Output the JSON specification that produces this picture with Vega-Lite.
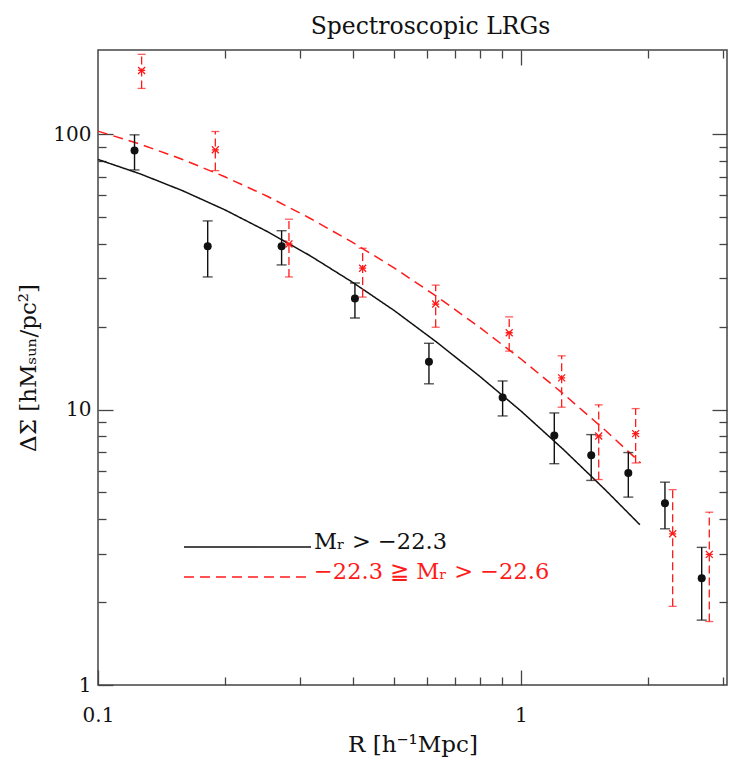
{
  "$schema": "https://vega.github.io/schema/vega-lite/v6.json",
  "width": 629,
  "height": 635,
  "autosize": {"type": "none"},
  "padding": {"left": 98, "top": 50, "right": 2, "bottom": 75},
  "background": "white",
  "title": {"text": "Spectroscopic LRGs", "font": "DejaVu Serif", "fontSize": 23.5, "fontWeight": "normal", "color": "#111", "anchor": "middle", "dx": 18, "offset": 11},
  "config": {"view": {"stroke": "#444", "strokeWidth": 1.5}},
  "datasets": {
    "pts": [
      {"group": "Mᵣ > −22.3", "R": 0.122, "DS": 87.2, "lo": 74.1, "hi": 99.4},
      {"group": "Mᵣ > −22.3", "R": 0.1817, "DS": 39.2, "lo": 30.3, "hi": 48.4},
      {"group": "Mᵣ > −22.3", "R": 0.2717, "DS": 39.2, "lo": 33.5, "hi": 44.6},
      {"group": "Mᵣ > −22.3", "R": 0.405, "DS": 25.3, "lo": 21.5, "hi": 28.8},
      {"group": "Mᵣ > −22.3", "R": 0.606, "DS": 14.9, "lo": 12.4, "hi": 17.4},
      {"group": "Mᵣ > −22.3", "R": 0.905, "DS": 11.06, "lo": 9.48, "hi": 12.7},
      {"group": "Mᵣ > −22.3", "R": 1.199, "DS": 8.05, "lo": 6.36, "hi": 9.72},
      {"group": "Mᵣ > −22.3", "R": 1.466, "DS": 6.82, "lo": 5.53, "hi": 8.11},
      {"group": "Mᵣ > −22.3", "R": 1.794, "DS": 5.88, "lo": 4.81, "hi": 6.98},
      {"group": "Mᵣ > −22.3", "R": 2.19, "DS": 4.57, "lo": 3.69, "hi": 5.45},
      {"group": "Mᵣ > −22.3", "R": 2.675, "DS": 2.44, "lo": 1.72, "hi": 3.16},
      {"group": "−22.3 ≧ Mᵣ > −22.6", "R": 0.1268, "DS": 170.3, "lo": 146.5, "hi": 194.8},
      {"group": "−22.3 ≧ Mᵣ > −22.6", "R": 0.1894, "DS": 87.7, "lo": 73.7, "hi": 102.2},
      {"group": "−22.3 ≧ Mᵣ > −22.6", "R": 0.2828, "DS": 39.9, "lo": 30.3, "hi": 49.1},
      {"group": "−22.3 ≧ Mᵣ > −22.6", "R": 0.4224, "DS": 32.6, "lo": 25.6, "hi": 38.5},
      {"group": "−22.3 ≧ Mᵣ > −22.6", "R": 0.6286, "DS": 24.15, "lo": 19.9, "hi": 28.3},
      {"group": "−22.3 ≧ Mᵣ > −22.6", "R": 0.938, "DS": 19.0, "lo": 16.3, "hi": 21.7},
      {"group": "−22.3 ≧ Mᵣ > −22.6", "R": 1.248, "DS": 13.03, "lo": 10.2, "hi": 15.67},
      {"group": "−22.3 ≧ Mᵣ > −22.6", "R": 1.527, "DS": 8.02, "lo": 5.57, "hi": 10.4},
      {"group": "−22.3 ≧ Mᵣ > −22.6", "R": 1.867, "DS": 8.18, "lo": 6.4, "hi": 10.08},
      {"group": "−22.3 ≧ Mᵣ > −22.6", "R": 2.284, "DS": 3.54, "lo": 1.93, "hi": 5.12},
      {"group": "−22.3 ≧ Mᵣ > −22.6", "R": 2.788, "DS": 2.98, "lo": 1.7, "hi": 4.24}
    ],
    "curves": [
      {"group": "Mᵣ > −22.3", "R": 0.1, "DS": 80.9},
      {"group": "Mᵣ > −22.3", "R": 0.1259, "DS": 71.7},
      {"group": "Mᵣ > −22.3", "R": 0.1585, "DS": 62.3},
      {"group": "Mᵣ > −22.3", "R": 0.1995, "DS": 53.1},
      {"group": "Mᵣ > −22.3", "R": 0.2512, "DS": 44.3},
      {"group": "Mᵣ > −22.3", "R": 0.3162, "DS": 36.3},
      {"group": "Mᵣ > −22.3", "R": 0.3981, "DS": 29.1},
      {"group": "Mᵣ > −22.3", "R": 0.5012, "DS": 22.9},
      {"group": "Mᵣ > −22.3", "R": 0.631, "DS": 17.6},
      {"group": "Mᵣ > −22.3", "R": 0.7943, "DS": 13.3},
      {"group": "Mᵣ > −22.3", "R": 1.0, "DS": 9.88},
      {"group": "Mᵣ > −22.3", "R": 1.2589, "DS": 7.17},
      {"group": "Mᵣ > −22.3", "R": 1.5849, "DS": 5.1},
      {"group": "Mᵣ > −22.3", "R": 1.91, "DS": 3.82},
      {"group": "−22.3 ≧ Mᵣ > −22.6", "R": 0.1, "DS": 102.5},
      {"group": "−22.3 ≧ Mᵣ > −22.6", "R": 0.1259, "DS": 91.9},
      {"group": "−22.3 ≧ Mᵣ > −22.6", "R": 0.1585, "DS": 80.9},
      {"group": "−22.3 ≧ Mᵣ > −22.6", "R": 0.1995, "DS": 70.0},
      {"group": "−22.3 ≧ Mᵣ > −22.6", "R": 0.2512, "DS": 59.5},
      {"group": "−22.3 ≧ Mᵣ > −22.6", "R": 0.3162, "DS": 49.6},
      {"group": "−22.3 ≧ Mᵣ > −22.6", "R": 0.3981, "DS": 40.6},
      {"group": "−22.3 ≧ Mᵣ > −22.6", "R": 0.5012, "DS": 32.7},
      {"group": "−22.3 ≧ Mᵣ > −22.6", "R": 0.631, "DS": 25.8},
      {"group": "−22.3 ≧ Mᵣ > −22.6", "R": 0.7943, "DS": 20.0},
      {"group": "−22.3 ≧ Mᵣ > −22.6", "R": 1.0, "DS": 15.26},
      {"group": "−22.3 ≧ Mᵣ > −22.6", "R": 1.2589, "DS": 11.41},
      {"group": "−22.3 ≧ Mᵣ > −22.6", "R": 1.5849, "DS": 8.39},
      {"group": "−22.3 ≧ Mᵣ > −22.6", "R": 1.919, "DS": 6.4}
    ]
  },
  "layer": [
    {
      "data": {"name": "curves"},
      "mark": {"type": "line", "strokeWidth": 1.5},
      "encoding": {
        "x": {"field": "R", "type": "quantitative",
          "scale": {"type": "log", "domain": [0.1, 3.07], "nice": false},
          "axis": {"orient": "bottom", "values": [0.1, 0.2, 0.3, 0.4, 0.5, 0.6, 0.7, 0.8, 0.9, 1, 2, 3],
            "labelExpr": "datum.value == 0.1 ? '0.1' : (datum.value == 1 ? '1' : '')",
            "tickSize": {"condition": {"test": "datum.value == 0.1 || datum.value == 1", "value": -15}, "value": -8},
            "tickColor": "#444", "tickWidth": 1.3, "domain": false, "grid": false,
            "labelFont": "DejaVu Serif", "labelFontSize": 20, "labelColor": "#111", "labelPadding": 35,
            "labelFlush": false, "labelOverlap": false,
            "title": "R [h⁻¹Mpc]", "titleFont": "DejaVu Serif", "titleFontSize": 23, "titleFontWeight": "normal", "titleColor": "#111", "titlePadding": 1}},
        "y": {"field": "DS", "type": "quantitative",
          "scale": {"type": "log", "domain": [1, 202], "nice": false},
          "axis": {"orient": "left", "values": [1, 2, 3, 4, 5, 6, 7, 8, 9, 10, 20, 30, 40, 50, 60, 70, 80, 90, 100],
            "labelExpr": "datum.value == 1 ? '1' : (datum.value == 10 ? '10' : (datum.value == 100 ? '100' : ''))",
            "tickSize": {"condition": {"test": "datum.value == 1 || datum.value == 10 || datum.value == 100", "value": -15}, "value": -8},
            "tickColor": "#444", "tickWidth": 1.3, "domain": false, "grid": false,
            "labelFont": "DejaVu Serif", "labelFontSize": 20, "labelColor": "#111", "labelPadding": 22,
            "labelFlush": false, "labelOverlap": false,
            "title": "ΔΣ [hMₛᵤₙ/pc²]", "titleFont": "DejaVu Serif", "titleFontSize": 23, "titleFontWeight": "normal", "titleColor": "#111", "titlePadding": 12}},
        "color": {"field": "group", "type": "nominal",
          "scale": {"domain": ["Mᵣ > −22.3", "−22.3 ≧ Mᵣ > −22.6"], "range": ["#111111", "#ff1a1a"]},
          "legend": {"orient": "none", "legendX": 85, "legendY": 483, "title": null, "padding": 0,
            "symbolType": "stroke", "symbolSize": 16129, "symbolStrokeWidth": 1.5, "symbolOffset": 0,
            "clipHeight": 28, "rowPadding": 0, "labelOffset": 2,
            "labelFont": "DejaVu Serif", "labelFontSize": 22.5, "labelBaseline": "middle", "labelLimit": 400,
            "encode": {"labels": {"update": {"fill": {"signal": "datum.index === 0 ? '#111111' : '#ff1a1a'"}, "dy": {"value": -5}}}}}},
        "strokeDash": {"field": "group", "type": "nominal",
          "scale": {"domain": ["Mᵣ > −22.3", "−22.3 ≧ Mᵣ > −22.6"], "range": [[1, 0], [10, 6]]},
          "legend": {"orient": "none", "legendX": 85, "legendY": 483, "title": null, "padding": 0,
            "symbolType": "stroke", "symbolSize": 16129, "symbolStrokeWidth": 1.5, "symbolOffset": 0,
            "clipHeight": 28, "rowPadding": 0, "labelOffset": 2,
            "labelFont": "DejaVu Serif", "labelFontSize": 22.5, "labelBaseline": "middle", "labelLimit": 400,
            "encode": {"labels": {"update": {"fill": {"signal": "datum.index === 0 ? '#111111' : '#ff1a1a'"}, "dy": {"value": -5}}}}}}
      }
    },
    {
      "data": {"name": "pts"},
      "transform": [{"filter": "datum.group == 'Mᵣ > −22.3'"}],
      "mark": {"type": "rule", "strokeWidth": 1.4},
      "encoding": {
        "x": {"field": "R", "type": "quantitative", "axis": null},
        "y": {"field": "lo", "type": "quantitative", "axis": null},
        "y2": {"field": "hi"},
        "color": {"field": "group", "type": "nominal", "legend": null}
      }
    },
    {
      "data": {"name": "pts"},
      "transform": [{"filter": "datum.group != 'Mᵣ > −22.3'"}],
      "mark": {"type": "rule", "strokeWidth": 1.3, "strokeDash": [8, 4]},
      "encoding": {
        "x": {"field": "R", "type": "quantitative", "axis": null},
        "y": {"field": "lo", "type": "quantitative", "axis": null},
        "y2": {"field": "hi"},
        "color": {"field": "group", "type": "nominal", "legend": null}
      }
    },
    {
      "data": {"name": "pts"},
      "transform": [{"filter": "datum.group == 'Mᵣ > −22.3'"}, {"fold": ["lo", "hi"], "as": ["end", "val"]}],
      "mark": {"type": "tick", "orient": "horizontal", "size": 10, "thickness": 1.4},
      "encoding": {
        "x": {"field": "R", "type": "quantitative", "axis": null},
        "y": {"field": "val", "type": "quantitative", "axis": null},
        "color": {"field": "group", "type": "nominal", "legend": null}
      }
    },
    {
      "data": {"name": "pts"},
      "transform": [{"filter": "datum.group != 'Mᵣ > −22.3'"}, {"fold": ["lo", "hi"], "as": ["end", "val"]}],
      "mark": {"type": "tick", "orient": "horizontal", "size": 8, "thickness": 1.3},
      "encoding": {
        "x": {"field": "R", "type": "quantitative", "axis": null},
        "y": {"field": "val", "type": "quantitative", "axis": null},
        "color": {"field": "group", "type": "nominal", "legend": null}
      }
    },
    {
      "data": {"name": "pts"},
      "transform": [{"filter": "datum.group == 'Mᵣ > −22.3'"}],
      "mark": {"type": "point", "shape": "circle", "filled": true, "size": 64, "opacity": 1},
      "encoding": {
        "x": {"field": "R", "type": "quantitative", "axis": null},
        "y": {"field": "DS", "type": "quantitative", "axis": null},
        "color": {"field": "group", "type": "nominal", "legend": null}
      }
    },
    {
      "data": {"name": "pts"},
      "transform": [{"filter": "datum.group != 'Mᵣ > −22.3'"}],
      "mark": {"type": "point", "shape": "M-1,-1L1,1M-1,1L1,-1M-1,0L1,0", "filled": false, "size": 49, "strokeWidth": 1.3, "opacity": 1},
      "encoding": {
        "x": {"field": "R", "type": "quantitative",
          "axis": {"orient": "top", "values": [0.2, 0.3, 0.4, 0.5, 0.6, 0.7, 0.8, 0.9, 1, 2, 3], "labels": false, "title": null,
            "tickSize": {"condition": {"test": "datum.value == 1", "value": -15}, "value": -8},
            "tickColor": "#444", "tickWidth": 1.3, "domain": false, "grid": false}},
        "y": {"field": "DS", "type": "quantitative",
          "axis": {"orient": "right", "values": [2, 3, 4, 5, 6, 7, 8, 9, 10, 20, 30, 40, 50, 60, 70, 80, 90, 100], "labels": false, "title": null,
            "tickSize": {"condition": {"test": "datum.value == 10 || datum.value == 100", "value": -15}, "value": -8},
            "tickColor": "#444", "tickWidth": 1.3, "domain": false, "grid": false}},
        "color": {"field": "group", "type": "nominal", "legend": null}
      }
    }
  ],
  "resolve": {"axis": {"x": "independent", "y": "independent"}}
}
